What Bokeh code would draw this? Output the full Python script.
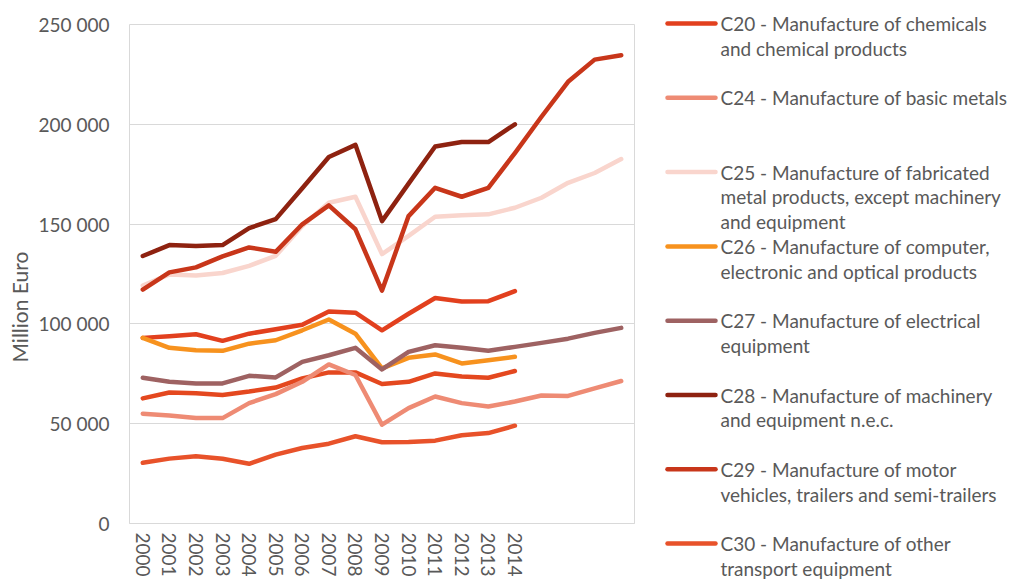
from bokeh.plotting import figure
from bokeh.models import FixedTicker, ColumnDataSource, Title
from bokeh.layouts import row, column
from bokeh.embed import file_html
from bokeh.resources import INLINE

years = list(range(2000, 2019))
x_tick_years = list(range(2000, 2015))
y_ticks = [0, 50000, 100000, 150000, 200000, 250000]
y_tick_labels = ["0", "50 000", "100 000", "150 000", "200 000", "250 000"]

c20 = [93000, 93800, 94800, 91500, 95100, 97300, 99600, 106200, 105600, 96800,
       105100, 113000, 111200, 111400, 116400]
c24 = [55000, 54100, 52800, 52800, 60300, 64800, 71000, 79700, 74400, 49500,
       57800, 63600, 60300, 58600, 61100, 64100, 63900, 67700, 71400]
c25 = [119200, 124800, 124200, 125500, 129100, 134100, 149000, 160700, 163700, 135000,
       144100, 153700, 154400, 154900, 158200, 163200, 170700, 175600, 182600]
c26 = [93000, 88000, 86800, 86500, 90100, 91800, 96800, 102200, 95100, 77700,
       83000, 84700, 80200, 81800, 83500]
c27 = [73000, 71000, 70200, 70200, 74000, 73200, 81000, 84300, 88000, 77200,
       86000, 89300, 88000, 86500, 88500, 90500, 92600, 95500, 98000]
c28 = [134000, 139500, 139000, 139500, 148000, 152500, 168000, 183600, 189700, 151500,
       170300, 188900, 191100, 191100, 200000]
c29 = [117200, 125800, 128300, 133800, 138300, 136100, 149900, 159400, 147400, 116700,
       154000, 168200, 163700, 168200, 185600, 203800, 221300, 232400, 234600]
c30 = [30400, 32500, 33700, 32400, 29900, 34500, 37800, 40000, 43700, 40700,
       40800, 41500, 44200, 45300, 49000]
unlisted = [62700, 65600, 65200, 64400, 66100, 68100, 72700, 75700, 75700, 69900,
            71000, 75200, 73600, 73000, 76400]

labels = [
    "C20 - Manufacture of chemicals\nand chemical products",
    "C24 - Manufacture of basic metals",
    "C25 - Manufacture of fabricated\nmetal products, except machinery\nand equipment",
    "C26 - Manufacture of computer,\nelectronic and optical products",
    "C27 - Manufacture of electrical\nequipment",
    "C28 - Manufacture of machinery\nand equipment n.e.c.",
    "C29 - Manufacture of motor\nvehicles, trailers and semi-trailers",
    "C30 - Manufacture of other\ntransport equipment",
]
colors = ["#E2401E", "#EE8B74", "#F9D5CD", "#F7921E", "#9E6262", "#8E2210", "#C8361A", "#E8522A"]
series = [c20, c24, c25, c26, c27, c28, c29, c30]

FONT = "Lato"
TXT = "#595959"
GRID = "#D9D9D9"
H = 579

# ---------------- main chart ----------------
p = figure(width=650, height=H, x_range=(1999.5, 2018.5), y_range=(0, 250000),
           output_backend="svg", toolbar_location=None,
           min_border_left=128, min_border_top=24, min_border_bottom=53, min_border_right=16)
p.background_fill_color = "white"
p.border_fill_color = "white"
p.outline_line_color = GRID
p.xgrid.grid_line_color = None
p.ygrid.grid_line_color = GRID
p.ygrid.ticker = FixedTicker(ticks=y_ticks)

p.yaxis.ticker = FixedTicker(ticks=y_ticks)
p.yaxis.major_label_overrides = {t: l for t, l in zip(y_ticks, y_tick_labels)}
p.yaxis.axis_line_color = None
p.yaxis.major_tick_line_color = None
p.yaxis.minor_tick_line_color = None
p.yaxis.major_tick_out = 0
p.yaxis.major_label_standoff = 20

p.xaxis.ticker = FixedTicker(ticks=x_tick_years)
p.xaxis.axis_line_color = GRID
p.xaxis.major_tick_line_color = None
p.xaxis.minor_tick_line_color = None
p.xaxis.major_tick_out = 0
p.xaxis.major_label_standoff = 9
p.xaxis.major_label_orientation = "vertical"

for ax in (p.xaxis[0], p.yaxis[0]):
    ax.major_label_text_font = FONT
    ax.major_label_text_font_size = "19px"
    ax.major_label_text_color = TXT

# y-axis title, placed a little below the frame centre as in the reference
p.add_layout(Title(text="Million Euro", align="left", offset=161, standoff=8,
                   text_font=FONT, text_font_size="21px", text_font_style="normal",
                   text_color=TXT), "left")

for lab, col, ys in zip(labels, colors, series):
    xs = years[:len(ys)]
    p.line(xs, ys, line_color=col, line_width=4.5, line_join="round", line_cap="round")
    if lab.startswith("C20"):
        # series whose legend entry is cut off in the reference
        p.line(years[:len(unlisted)], unlisted, line_color="#E4481F", line_width=4.5,
               line_join="round", line_cap="round")

# ---------------- legend panel ----------------
LW = 362
leg = figure(width=LW, height=H, x_range=(0, LW), y_range=(H, 0),
             output_backend="svg", toolbar_location=None,
             x_axis_type=None, y_axis_type=None, min_border=0)
leg.outline_line_color = None
leg.background_fill_color = "white"
leg.border_fill_color = "white"
for g in leg.grid:
    g.visible = False

row_top, row_step, line_step = 23, 74.3, 24.8
gx0, gx1, tx = 17, 65, 70
seg = dict(x0=[], x1=[], y=[], color=[])
txt = dict(x=[], y=[], text=[])
for i, (lab, col) in enumerate(zip(labels, colors)):
    y0 = row_top + i * row_step
    seg["x0"].append(gx0)
    seg["x1"].append(gx1)
    seg["y"].append(y0)
    seg["color"].append(col)
    for j, line in enumerate(lab.split("\n")):
        txt["x"].append(tx)
        txt["y"].append(y0 + j * line_step)
        txt["text"].append(line)

leg.segment(x0="x0", y0="y", x1="x1", y1="y", line_color="color", line_width=4.5,
            line_cap="round", source=ColumnDataSource(seg))
leg.text(x="x", y="y", text="text", source=ColumnDataSource(txt),
         text_font={"value": FONT}, text_font_size="19px", text_color=TXT,
         text_baseline="middle", text_align="left")

layout = row(p, column(leg))
open("out.html", "w").write(file_html(layout, INLINE))
